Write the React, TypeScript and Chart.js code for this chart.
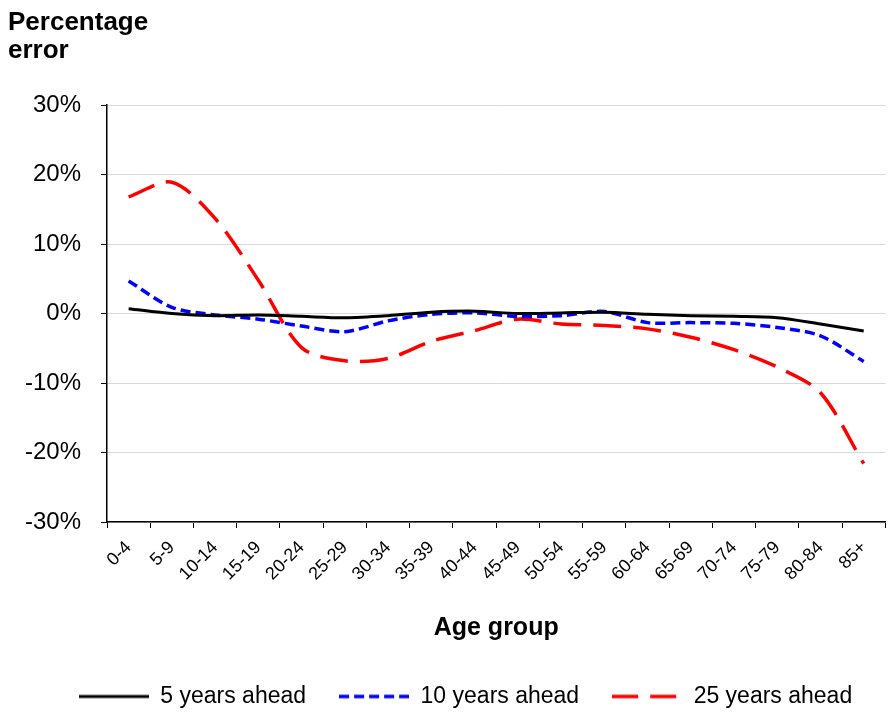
import React, { useEffect, useRef } from 'react';
import { Chart, registerables } from 'chart.js';

Chart.register(...registerables);

const FONT = "'Liberation Sans', Arial, sans-serif";

const ageGroups = ['0-4', '5-9', '10-14', '15-19', '20-24', '25-29', '30-34', '35-39', '40-44', '45-49', '50-54', '55-59', '60-64', '65-69', '70-74', '75-79', '80-84', '85+'];
const fiveYearsAhead = [0.7, 0.0, -0.3, -0.2, -0.4, -0.6, -0.3, 0.2, 0.35, 0.0, 0.1, 0.2, -0.1, -0.3, -0.4, -0.6, -1.5, -2.5];
const tenYearsAhead = [4.7, 0.9, -0.2, -0.8, -1.8, -2.6, -1.05, -0.1, 0.1, -0.4, -0.3, 0.3, -1.3, -1.3, -1.4, -2.0, -3.2, -6.9];
const twentyFiveYearsAhead = [16.8, 18.9, 13.7, 4.8, -4.9, -6.8, -6.45, -4.0, -2.45, -0.8, -1.5, -1.7, -2.2, -3.4, -5.2, -7.7, -11.4, -21.6];
const seriesNames = ['5 years ahead', '10 years ahead', '25 years ahead'];
const yMin = -30;
const yMax = 30;
const yStep = 10;

const CHART_BOTTOM = 522;
const CANVAS_H = 715;

const legendShift = {
  id: 'legendShift',
  afterLayout(chart: any) {
    const l = chart.legend;
    if (l) {
      l.left += 16;
      l.right += 16;
      l.top += 3;
      l.bottom += 3;
    }
  },
};

function makeSwatch(color: string, width: number, dash: number[]) {
  const c = document.createElement('canvas');
  c.width = 70;
  c.height = 6;
  const ctx = c.getContext('2d') as CanvasRenderingContext2D;
  ctx.strokeStyle = color;
  ctx.lineWidth = width;
  ctx.setLineDash(dash);
  ctx.beginPath();
  ctx.moveTo(0, 3);
  ctx.lineTo(70, 3);
  ctx.stroke();
  return c;
}

export default function App() {
  const ref = useRef<HTMLCanvasElement>(null);

  useEffect(() => {
    document.body.style.margin = '0';
    Chart.defaults.font.family = FONT;
    const chart = new Chart(ref.current as HTMLCanvasElement, {
      type: 'line',
      data: {
        labels: ageGroups,
        datasets: [
          {
            label: seriesNames[0],
            data: fiveYearsAhead,
            borderColor: '#000000',
            backgroundColor: '#000000',
            borderWidth: 3,
            pointRadius: 0,
            pointStyle: makeSwatch('#000000', 3, []),
            tension: 0.3,
          },
          {
            label: seriesNames[1],
            data: tenYearsAhead,
            borderColor: '#0000ff',
            backgroundColor: '#0000ff',
            borderWidth: 3.5,
            borderDash: [10, 5],
            pointRadius: 0,
            pointStyle: makeSwatch('#0000ff', 3.5, [10, 5]),
            tension: 0.3,
          },
          {
            label: seriesNames[2],
            data: twentyFiveYearsAhead,
            borderColor: '#ff0000',
            backgroundColor: '#ff0000',
            borderWidth: 3.5,
            borderDash: [28, 12],
            pointRadius: 0,
            pointStyle: makeSwatch('#ff0000', 3.5, [26, 12]),
            tension: 0.3,
          },
        ],
      },
      options: {
        responsive: false,
        animation: false,
        devicePixelRatio: 1,
        layout: { padding: { left: 8, right: -3, top: 0, bottom: 0 } },
        plugins: {
          title: {
            display: true,
            text: ['Percentage', 'error'],
            align: 'start',
            color: '#000000',
            font: { family: FONT, size: 26, weight: 'bold', lineHeight: 1.08 },
            padding: { top: 9, bottom: 40 },
          },
          legend: {
            position: 'bottom',
            labels: {
              usePointStyle: true,
              pointStyleWidth: 70,
              color: '#000000',
              font: { family: FONT, size: 23 },
              padding: 33,
            },
          },
          tooltip: { enabled: false },
        },
        scales: {
          x: {
            type: 'category',
            offset: true,
            grid: {
              offset: true,
              drawOnChartArea: false,
              drawTicks: true,
              tickLength: 6,
              tickColor: '#000000',
              tickWidth: 1,
            },
            border: { color: '#000000', width: 1.5 },
            ticks: {
              minRotation: 45,
              maxRotation: 45,
              autoSkip: false,
              padding: 9,
              color: '#000000',
              font: { family: FONT, size: 18 },
            },
            title: {
              display: true,
              text: 'Age group',
              color: '#000000',
              font: { family: FONT, size: 25, weight: 'bold' },
              padding: { top: 0, bottom: 6 },
            },
            afterFit: (s: any) => {
              const lh = s.chart.legend ? s.chart.legend.height : 66;
              s.height = CANVAS_H - CHART_BOTTOM - lh;
            },
          },
          y: {
            min: yMin,
            max: yMax,
            ticks: {
              stepSize: yStep,
              padding: 20,
              color: '#000000',
              font: { family: FONT, size: 24 },
              callback: (v: any) => `${v}%`,
            },
            grid: {
              color: '#d9d9d9',
              lineWidth: 1,
              drawTicks: true,
              tickLength: 6,
              tickColor: '#000000',
            },
            border: { color: '#000000', width: 1.5 },
            afterFit: (s: any) => {
              s.width = 99;
            },
          },
        },
      },
      plugins: [legendShift],
    } as any);
    return () => chart.destroy();
  }, []);

  return <canvas ref={ref} width={888} height={715} style={{ display: 'block' }} />;
}
